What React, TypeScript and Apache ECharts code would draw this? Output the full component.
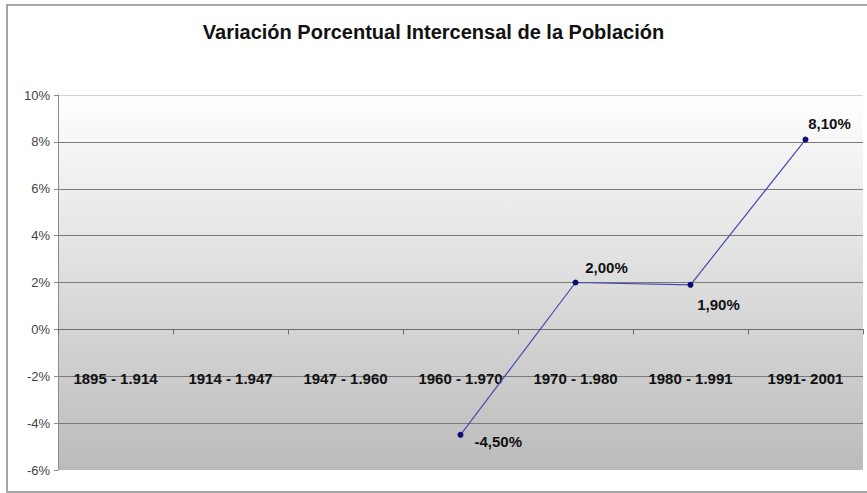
import React, { useEffect, useRef } from "react";
import * as echarts from "echarts";

const title = "Variación Porcentual Intercensal de la Población";
const categories = [
  "1895 - 1.914",
  "1914 - 1.947",
  "1947 - 1.960",
  "1960 - 1.970",
  "1970 - 1.980",
  "1980 - 1.991",
  "1991- 2001",
];
const variation: (number | null)[] = [null, null, null, -4.5, 2.0, 1.9, 8.1];
const yMin = -6;
const yMax = 10;
const yStep = 2;

const FONT = "'Liberation Sans', Arial, sans-serif";

export default function App() {
  const ref = useRef<HTMLDivElement>(null);
  useEffect(() => {
    document.body.style.margin = "0";
    if (!ref.current) return;
    const chart = echarts.init(ref.current, null, { renderer: "svg" });
    const labelCfg: Record<number, any> = {
      3: { position: "right", offset: [6, 7] },
      4: { position: "top", offset: [31, 0] },
      5: { position: "bottom", offset: [28, 4] },
      6: { position: "top", offset: [24, -1] },
    };
    const data = variation.map((v, i) =>
      v === null ? null : { value: v, label: labelCfg[i] || {} }
    );
    chart.setOption({
      animation: false,
      backgroundColor: "#ffffff",
      textStyle: { fontFamily: FONT },
      title: {
        text: title,
        left: "center",
        top: 17,
        textStyle: { fontSize: 20, fontWeight: "bold", color: "#111", fontFamily: FONT },
      },
      graphic: [
        {
          type: "rect",
          shape: { x: 7, y: 5, width: 866, height: 487 },
          style: { fill: "none", stroke: "#8c8c8c", lineWidth: 1.5 },
          silent: true,
        },
      ],
      grid: {
        left: 58,
        right: 4,
        top: 95,
        bottom: 23,
        containLabel: false,
        outerBoundsMode: "none",
        show: true,
        borderWidth: 0,
        backgroundColor: {
          type: "linear",
          x: 0,
          y: 0,
          x2: 0,
          y2: 1,
          colorStops: [
            { offset: 0, color: "#ffffff" },
            { offset: 1, color: "#bbbbbb" },
          ],
        },
      },
      xAxis: [
        {
          type: "category",
          data: categories,
          boundaryGap: true,
          axisLine: { onZero: true, lineStyle: { color: "#6e6e6e", width: 1 } },
          axisTick: { show: true, length: 5, lineStyle: { color: "#6e6e6e" } },
          axisLabel: { show: false },
          splitLine: { show: false },
        },
        {
          type: "category",
          data: categories,
          position: "bottom",
          boundaryGap: true,
          axisLine: { show: false, onZero: false },
          axisTick: { show: false },
          axisLabel: {
            margin: -99,
            fontSize: 15,
            fontWeight: "bold",
            color: "#111",
            fontFamily: FONT,
            interval: 0,
          },
          splitLine: { show: false },
        },
      ],
      yAxis: {
        type: "value",
        min: yMin,
        max: yMax,
        interval: yStep,
        axisLine: { show: true, lineStyle: { color: "#8a8a8a", width: 1 } },
        axisTick: { show: true, length: 4, lineStyle: { color: "#8a8a8a" } },
        axisLabel: {
          formatter: (v: number) => `${v}%`,
          fontSize: 13,
          color: "#444",
          margin: 8,
          fontFamily: FONT,
        },
        splitLine: {
          show: true,
          lineStyle: {
            color: [
              "transparent",
              "#7a7a7a",
              "#7a7a7a",
              "#7a7a7a",
              "#7a7a7a",
              "#7a7a7a",
              "#7a7a7a",
              "#7a7a7a",
              "#d0d0d0",
            ],
            width: 1,
          },
        },
      },
      series: [
        {
          type: "line",
          data,
          connectNulls: false,
          symbol: "circle",
          symbolSize: 6,
          lineStyle: { color: "#4848b0", width: 1.2 },
          itemStyle: { color: "#0a0a70" },
          label: {
            show: true,
            fontSize: 15,
            fontWeight: "bold",
            color: "#111",
            fontFamily: FONT,
            formatter: (p: any) =>
              `${Number(p.value).toFixed(2).replace(".", ",")}%`,
          },
        },
      ],
    });
    return () => chart.dispose();
  }, []);
  return <div ref={ref} style={{ width: 867, height: 493 }} />;
}
